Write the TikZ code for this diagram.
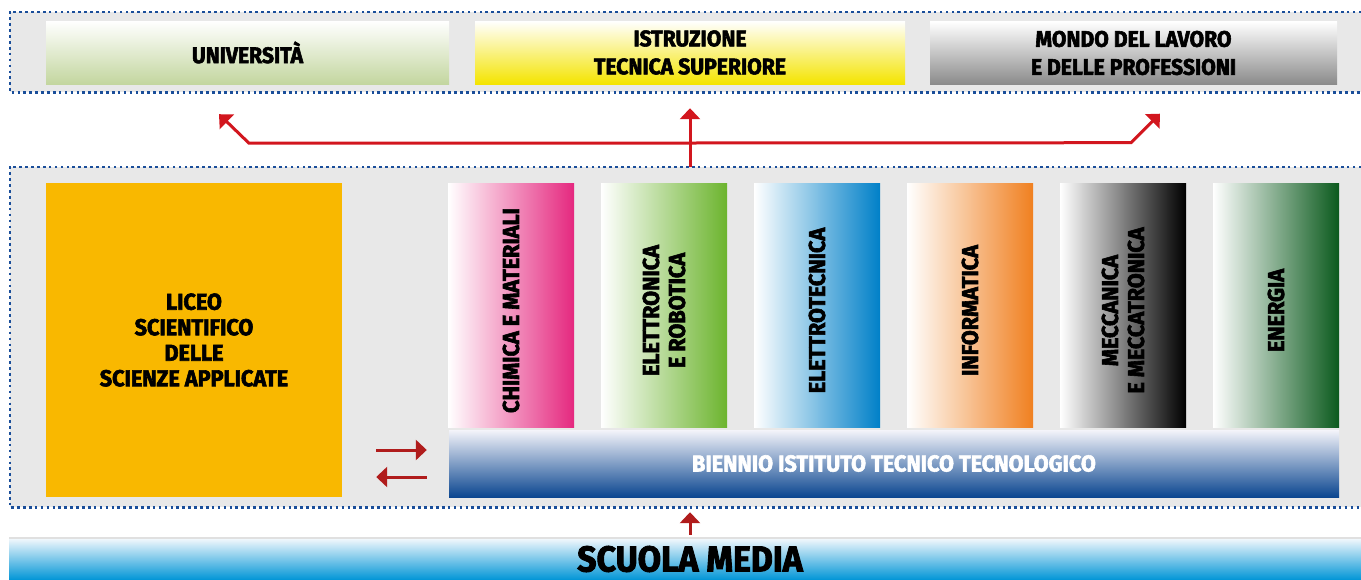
\documentclass[tikz,border=0pt]{standalone}
\usepackage{fontspec}
\setmainfont{Fira Sans}[FakeStretch=0.94,BoldFeatures={FakeBold=2.5}]
\usetikzlibrary{arrows.meta,calc}
\definecolor{bandgray}{HTML}{E8E8E8}
\definecolor{dotblue}{HTML}{1A4E9A}
\definecolor{arrowred}{HTML}{D2161E}
\definecolor{pairred}{HTML}{B01C1C}
\definecolor{unigreen}{HTML}{C3D69F}
\definecolor{itsyellow}{HTML}{F4E400}
\definecolor{mondogray}{HTML}{8A8A8A}
\definecolor{liceoorange}{HTML}{F9B800}
\definecolor{chimpink}{HTML}{E5287F}
\definecolor{eletgreen}{HTML}{6CB42E}
\definecolor{eltecmid}{HTML}{9CC8EC}
\definecolor{eltecblue}{HTML}{0080C8}
\definecolor{infoorange}{HTML}{F08020}
\definecolor{energgreen}{HTML}{0B5A1D}
\definecolor{bientop}{HTML}{F4F4FA}
\definecolor{bienmid}{HTML}{8A96C8}
\definecolor{bienblue}{HTML}{0B4690}
\definecolor{scuolatop}{HTML}{F5F9FD}
\definecolor{scuolablue}{HTML}{0095D6}
\newcommand\boxfont{\fontsize{23}{26}\selectfont\bfseries}
\newcommand\topfont{\fontsize{22.5}{28}\selectfont\bfseries}
\newcommand\liceofont{\fontsize{23}{25.5}\selectfont\bfseries}
\newcommand\scuolafont{\fontsize{36}{36}\selectfont\bfseries}
\newcommand\colsp{\hspace*{11pt}}
\begin{document}
\begin{tikzpicture}[x=1pt,y=-1pt,
    band/.style={fill=bandgray,minimum width=1351pt,inner sep=0pt},
    dots/.style={draw=dotblue,line width=2.6pt,dash pattern=on 2.6pt off 3.3pt},
    topbox/.style={minimum height=63pt,inner sep=0pt,align=center,
        font=\topfont,top color=white},
    column/.style={rotate=90,minimum width=244pt,minimum height=126pt,inner sep=0pt,
        align=center,font=\boxfont,left color=white},
    uparrow/.style={draw=arrowred,line width=3pt,-{Triangle[length=11pt,width=20pt]}},
    pairarrow/.style={draw=pairred,line width=3pt,-{Triangle[length=11pt,width=20pt]}}]
    \useasboundingbox (0,0) rectangle (1361,579);
    % frames
    \node[band,minimum height=80pt] (topband) at (685.5,52) {};
    \draw[dots] (topband.north east) -- (topband.north west) -- (topband.south west) -- (topband.south east);
    \node[band,minimum height=340pt] (midband) at (685.5,337) {};
    \draw[dots] (midband.north east) -- (midband.north west) -- (midband.south west) -- (midband.south east);
    % top row
    \node[topbox,minimum width=403pt,bottom color=unigreen] (uni) at (247.5,52.5) {UNIVERSITÀ};
    \node[topbox,minimum width=430pt,bottom color=itsyellow] (its) at (690,52.5) {ISTRUZIONE\\TECNICA SUPERIORE};
    \node[topbox,minimum width=407pt,bottom color=mondogray] (mondo) at (1133.5,53) {MONDO DEL LAVORO\\E DELLE PROFESSIONI};
    % middle
    \node[fill=liceoorange,minimum width=296pt,minimum height=314pt,inner sep=0pt,align=center,
        font=\liceofont] (liceo) at (194,340)
        {LICEO\\SCIENTIFICO\\DELLE\\SCIENZE APPLICATE};
    \node[column,right color=chimpink] (chim) at (511,305) {CHIMICA E MATERIALI\colsp};
    \node[column,right color=eletgreen] (elet) at (664,305) {ELETTRONICA\colsp\\E ROBOTICA\colsp};
    \node[column,middle color=eltecmid,right color=eltecblue] (eltec) at (817,305) {ELETTROTECNICA\colsp};
    \node[column,right color=infoorange] (info) at (970,305) {INFORMATICA\colsp};
    \node[column,right color=black] (mecc) at (1123,305) {MECCANICA\colsp\\E MECCATRONICA\colsp};
    \node[column,right color=energgreen] (energ) at (1276,305) {ENERGIA\colsp};
    \node[top color=bientop,middle color=bienmid,bottom color=bienblue,minimum width=890pt,
        minimum height=67pt,inner sep=0pt,font=\boxfont,text=white] (biennio) at (894,463.5)
        {BIENNIO ISTITUTO TECNICO TECNOLOGICO};
    % bottom
    \node[top color=scuolatop,bottom color=scuolablue,minimum width=1362pt,minimum height=42pt,
        inner sep=0pt,font=\scuolafont] (scuola) at (690,559)
        {\raisebox{-3pt}{SCUOLA MEDIA}};
    \draw[black!12,line width=1.5pt] (scuola.north west) -- (scuola.north east);
    % arrows
    \coordinate (fork) at (its.south |- 0,143);
    \coordinate (unicorner) at ($(uni.south)+(1.5,59)$);
    \coordinate (mondocorner) at ($(mondo.south)+(-2.5,58)$);
    \draw[uparrow] (fork) -- (unicorner) -- ($(unicorner)+(-30,-29)$);
    \draw[uparrow] (fork) -- (mondocorner) -- ($(mondocorner)+(29,-29)$);
    \draw[uparrow,shorten >=24pt] (midband.north -| its.south) -- (its.south);
    \draw[pairarrow] ($(liceo.east |- biennio.west)+(34,-13.5)$) -- ($(biennio.west)+(-22,-13.5)$);
    \draw[pairarrow] ($(biennio.west)+(-22,13.5)$) -- ($(liceo.east |- biennio.west)+(34,13.5)$);
    \draw[pairarrow,shorten <=3pt,shorten >=5pt] (scuola.north) -- (scuola.north |- midband.south);
\end{tikzpicture}
\end{document}
